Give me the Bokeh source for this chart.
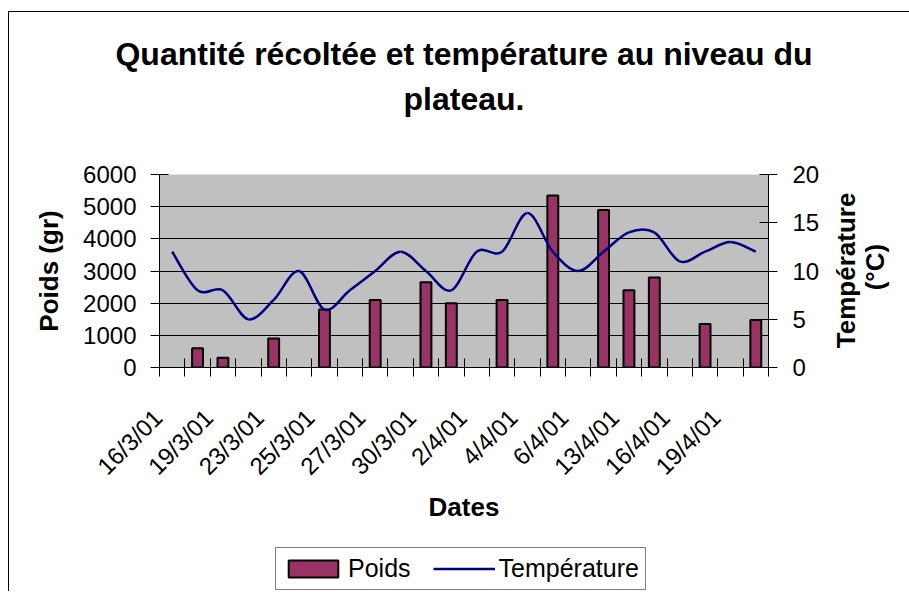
from math import pi
from bokeh.plotting import figure
from bokeh.layouts import column
from bokeh.models import (Range1d, LinearAxis, FixedTicker, Legend, LegendItem, Title,
                          ColumnDataSource)
from bokeh.embed import file_html
from bokeh.resources import INLINE

# ---- data ----
# 24 date categories; only every other one carries a tick label
date_labels = ["16/3/01", "", "19/3/01", "", "23/3/01", "", "25/3/01", "", "27/3/01", "",
               "30/3/01", "", "2/4/01", "", "4/4/01", "", "6/4/01", "", "13/4/01", "",
               "16/4/01", "", "19/4/01", ""]
poids = [None, 600, 300, None, 900, None, 1800, None, 2100, None, 2650, 2000,
         None, 2100, None, 5350, None, 4900, 2400, 2800, None, 1350, None, 1480]
temperature = [12, 8, 8, 5, 7, 10, 6, 8, 10, 12, 10, 8,
               12, 12, 16, 12, 10, 12, 14, 14, 11, 12, 13, 12]
poids_ticks = [0, 1000, 2000, 3000, 4000, 5000, 6000]
temp_ticks = [0, 5, 10, 15, 20]

FONT = "Liberation Sans"
W = 909
BL, BR = 159, 141
n = len(date_labels)

# ---------------- title strip ----------------
pt = figure(width=W, height=159, output_backend="svg", toolbar_location=None,
            x_axis_type=None, y_axis_type=None, x_range=Range1d(0, 1), y_range=Range1d(0, 1),
            min_border_left=BL, min_border_right=BR, min_border_top=120, min_border_bottom=0)
pt.outline_line_color = None
pt.background_fill_color = None
pt.border_fill_color = None
pt.grid.visible = False
pt.add_layout(Title(text="plateau.", align="center", text_font=FONT, text_font_size="32px",
                    text_font_style="bold", text_color="black", standoff=7, offset=0), "above")
pt.add_layout(Title(text="Quantité récoltée et température au niveau du", align="center",
                    text_font=FONT, text_font_size="32px", text_font_style="bold",
                    text_color="black", standoff=7, offset=0), "above")

# ---------------- main chart ----------------
p = figure(width=W, height=388, x_range=Range1d(-0.5, n - 0.5), y_range=Range1d(0, 6000),
           output_backend="svg", toolbar_location=None,
           min_border_left=BL, min_border_right=BR, min_border_top=15, min_border_bottom=180)
p.extra_y_ranges = {"temp": Range1d(0, 20)}
p.background_fill_color = "#C0C0C0"
p.border_fill_color = None
p.outline_line_color = None

yt = FixedTicker(ticks=poids_ticks)
p.yaxis.ticker = yt
p.ygrid.ticker = yt
p.ygrid.grid_line_color = "black"
p.ygrid.grid_line_width = 1
p.xgrid.visible = False

# x axis: labels on every other category, boundary tick marks
NB = "\u00a0" * 3
lab_idx = [i for i, l in enumerate(date_labels) if l]
xa = p.xaxis[0]
xa.ticker = FixedTicker(ticks=lab_idx, minor_ticks=[i - 0.5 for i in range(n + 1)])
xa.major_label_overrides = {i: date_labels[i] + NB for i in lab_idx}
xa.major_label_orientation = pi / 4
xa.major_tick_line_color = None
xa.minor_tick_line_color = "black"
xa.minor_tick_in = 9
xa.minor_tick_out = 9
xa.major_label_standoff = 23
xa.major_label_text_font = FONT
xa.major_label_text_font_size = "24px"
xa.major_label_text_color = "black"
xa.axis_line_color = "black"
xa.axis_label = "Dates"
xa.axis_label_text_font = FONT
xa.axis_label_text_font_size = "26px"
xa.axis_label_text_font_style = "bold"
xa.axis_label_text_color = "black"
xa.axis_label_standoff = 0

ya = p.yaxis[0]
ya.major_tick_in = 9
ya.major_tick_out = 9
ya.minor_tick_line_color = None
ya.major_label_standoff = 14
ya.major_label_text_font = FONT
ya.major_label_text_font_size = "24px"
ya.major_label_text_color = "black"
ya.axis_line_color = "black"
ya.major_tick_line_color = "black"
ya.axis_label = "Poids (gr)"
ya.axis_label_text_font = FONT
ya.axis_label_text_font_size = "26px"
ya.axis_label_text_font_style = "bold"
ya.axis_label_text_color = "black"
ya.axis_label_standoff = 16

# right axis (temperature scale)
ra = LinearAxis(y_range_name="temp", ticker=FixedTicker(ticks=temp_ticks))
ra.major_tick_in = 9
ra.major_tick_out = 9
ra.minor_tick_line_color = None
ra.major_label_standoff = 15
ra.major_label_text_font = FONT
ra.major_label_text_font_size = "24px"
ra.major_label_text_color = "black"
ra.axis_line_color = "black"
p.add_layout(ra, "right")

# right-hand title, two lines reading upwards, carried by label-only axes
def title_axis(text, start, standoff):
    ax = LinearAxis(y_range_name="temp", ticker=FixedTicker(ticks=[start]))
    ax.major_label_overrides = {start: text}
    ax.major_label_orientation = pi / 2
    ax.axis_line_color = None
    ax.major_tick_line_color = None
    ax.minor_tick_line_color = None
    ax.major_tick_in = 0
    ax.major_tick_out = 0
    ax.major_label_standoff = standoff
    ax.major_label_text_font = FONT
    ax.major_label_text_font_size = "26px"
    ax.major_label_text_font_style = "bold"
    ax.major_label_text_color = "black"
    return ax

p.add_layout(title_axis("Température", 2, 24), "right")
p.add_layout(title_axis("(°C)", 8, -4), "right")

bx = [i for i, v in enumerate(poids) if v is not None]
bv = [v for v in poids if v is not None]
bar_style = dict(width=0.43, bottom=0, fill_color="#993366", line_color="black", line_width=2)
p.vbar(x=bx, top=bv, **bar_style)

# smoothed temperature curve (Catmull-Rom -> cubic Bezier)
xs = list(range(n))
def tp(i):
    return temperature[min(max(i, 0), n - 1)]
def xp(i):
    return xs[min(max(i, 0), n - 1)]
seg = dict(x0=[], y0=[], x1=[], y1=[], cx0=[], cy0=[], cx1=[], cy1=[])
for i in range(n - 1):
    seg["x0"].append(xs[i]); seg["y0"].append(temperature[i])
    seg["x1"].append(xs[i + 1]); seg["y1"].append(temperature[i + 1])
    seg["cx0"].append(xs[i] + (xp(i + 1) - xp(i - 1)) / 6)
    seg["cy0"].append(temperature[i] + (tp(i + 1) - tp(i - 1)) / 6)
    seg["cx1"].append(xs[i + 1] - (xp(i + 2) - xp(i)) / 6)
    seg["cy1"].append(temperature[i + 1] - (tp(i + 2) - tp(i)) / 6)
p.bezier(x0="x0", y0="y0", x1="x1", y1="y1", cx0="cx0", cy0="cy0", cx1="cx1", cy1="cy1",
         source=ColumnDataSource(seg), y_range_name="temp", line_color="#000080", line_width=2.5)

# ---------------- legend strip ----------------
pl = figure(width=W, height=44, output_backend="svg", toolbar_location=None,
            x_axis_type=None, y_axis_type=None, x_range=Range1d(0, 1), y_range=Range1d(0, 1),
            min_border_left=BL, min_border_right=BR, min_border_top=0, min_border_bottom=0)
pl.outline_line_color = None
pl.background_fill_color = None
pl.border_fill_color = None
pl.grid.visible = False
lb = pl.vbar(x=bx, top=bv, visible=False, **bar_style)
ll = pl.line(x=xs, y=temperature, line_color="#000080", line_width=2.5, visible=False)
legend = Legend(items=[LegendItem(label="Poids", renderers=[lb]),
                       LegendItem(label="Température", renderers=[ll])],
                orientation="horizontal", location=(116, 1))
legend.border_line_color = "black"
legend.border_line_width = 1
legend.background_fill_color = "white"
legend.background_fill_alpha = 1
legend.label_text_font = FONT
legend.label_text_font_size = "25px"
legend.label_text_color = "black"
legend.glyph_width = 62
legend.glyph_height = 21
legend.label_standoff = 4
legend.spacing = 22
legend.padding = 6
legend.margin = 0
pl.add_layout(legend, "center")

layout = column(pt, p, pl, spacing=0)
# outer chart border: left and top edges (right/bottom fall outside the window)
layout.styles = {"background": "linear-gradient(#000, #000) 8px 11px / 1px 100% no-repeat, "
                               "linear-gradient(#000, #000) 8px 11px / 100% 1px no-repeat, white"}

open("out.html", "w").write(file_html(layout, INLINE))
